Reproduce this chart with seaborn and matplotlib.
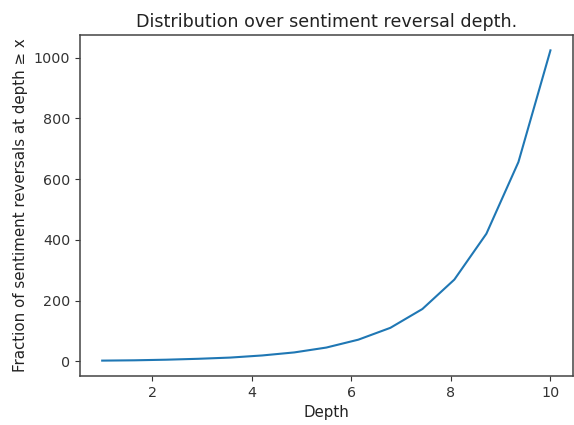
"""Line chart: distribution over sentiment reversal depth."""
import matplotlib
matplotlib.use("Agg")
import matplotlib.pyplot as plt
import pandas as pd
import seaborn as sns

# values
depth = [1.0, 1.643, 2.286, 2.929, 3.571, 4.214, 4.857, 5.5,
         6.143, 6.786, 7.429, 8.071, 8.714, 9.357, 10.0]
reversals = [2, 3, 5, 8, 12, 19, 29, 45, 71, 110, 172, 269, 420, 656, 1024]

TITLE = "Distribution over sentiment reversal depth."
XLABEL = "Depth"
YLABEL = "Fraction of sentiment reversals at depth \u2265 x"

plt.rcParams["font.family"] = ["DejaVu Sans"]

df = pd.DataFrame({"depth": depth, "reversals": reversals})

fig = plt.figure(figsize=(5.74, 4.25), dpi=100)
ax = fig.add_axes([0.139, 0.115, 0.859, 0.803])

sns.lineplot(data=df, x="depth", y="reversals", ax=ax,
             color="#1f77b4", linewidth=1.5)

ax.set_xticks([2, 4, 6, 8, 10])
ax.set_yticks([0, 200, 400, 600, 800, 1000])
ax.tick_params(labelsize=10.3, colors="#333333")
ax.set_title(TITLE, fontsize=12.6, color="#222222")
ax.set_xlabel(XLABEL, fontsize=10.8, color="#222222")
ax.set_ylabel(YLABEL, fontsize=10.8, color="#222222")
for sp in ax.spines.values():
    sp.set_color("#444444")
    sp.set_linewidth(1.1)

fig.savefig("out.png", dpi=100)
